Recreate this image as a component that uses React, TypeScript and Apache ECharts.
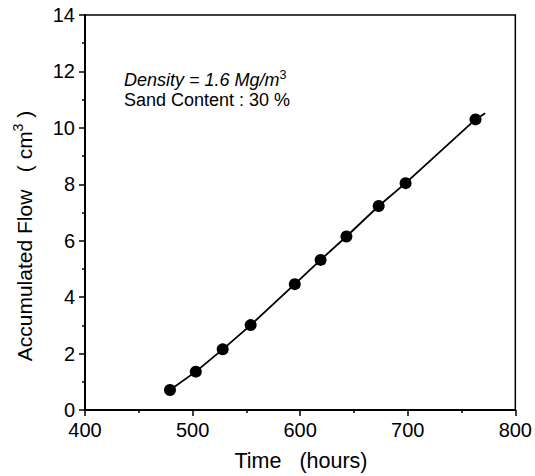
import React, { useEffect, useRef } from "react";
import * as echarts from "echarts";

const timeHours = [479, 503, 528, 554, 595, 619, 643, 673, 698, 763];
const flowCm3 = [0.71, 1.36, 2.15, 3.01, 4.46, 5.32, 6.15, 7.23, 8.04, 10.3];
const fitTime = [479, 503, 528, 554, 595, 619, 643, 673, 698, 763, 772];
const fitFlow = [0.71, 1.36, 2.15, 3.01, 4.46, 5.32, 6.15, 7.23, 8.04, 10.3, 10.52];
const xTicks = [400, 800, 100];
const yTicks = [0, 14, 2];

const FONT = "'Liberation Sans', Arial, sans-serif";

export default function App() {
  const ref = useRef<HTMLDivElement>(null);
  useEffect(() => {
    if (!ref.current) return;
    const chart = echarts.init(ref.current, null, { renderer: "svg" });
    const pts = timeHours.map((t, i) => [t, flowCm3[i]]);
    const fit = fitTime.map((t, i) => [t, fitFlow[i]]);
    chart.setOption({
      animation: false,
      backgroundColor: "#fff",
      textStyle: { fontFamily: FONT },
      grid: {
        left: 85,
        right: 19,
        top: 15,
        bottom: 66,
        show: true,
        borderColor: "#000",
        borderWidth: 1.5,
      },
      xAxis: {
        type: "value",
        min: xTicks[0],
        max: xTicks[1],
        interval: xTicks[2],
        axisLine: { show: true, onZero: false, lineStyle: { color: "#000", width: 2 } },
        axisTick: { show: true, length: 6, lineStyle: { color: "#000", width: 1.5 } },
        minorTick: { show: true, splitNumber: 2, length: 3, lineStyle: { color: "#000", width: 1.5 } },
        splitLine: { show: false },
        axisLabel: { color: "#000", fontSize: 20, fontFamily: FONT, margin: 12, lineHeight: 16 },
      },
      yAxis: {
        type: "value",
        min: yTicks[0],
        max: yTicks[1],
        interval: yTicks[2],
        axisLine: { show: true, onZero: false, lineStyle: { color: "#000", width: 2 } },
        axisTick: { show: true, length: 6, lineStyle: { color: "#000", width: 1.5 } },
        minorTick: { show: true, splitNumber: 2, length: 3, lineStyle: { color: "#000", width: 1.5 } },
        splitLine: { show: false },
        axisLabel: { color: "#000", fontSize: 20, fontFamily: FONT, margin: 10, lineHeight: 15 },
      },
      series: [
        {
          type: "line",
          data: fit,
          symbol: "none",
          lineStyle: { color: "#000", width: 1.8 },
          silent: true,
        },
        {
          type: "scatter",
          data: pts,
          symbol: "circle",
          symbolSize: 12,
          itemStyle: { color: "#000", opacity: 1 },
        },
      ],
      graphic: [
        {
          type: "text",
          left: 124,
          top: 68,
          style: {
            text: "{i|Density = 1.6 Mg/m}{s|3}",
            rich: {
              i: { fontSize: 18, fontStyle: "italic", fontFamily: FONT, fill: "#000", lineHeight: 21, verticalAlign: "bottom" },
              s: { fontSize: 12.5, fontFamily: FONT, fill: "#000", lineHeight: 21, verticalAlign: "top" },
            },
          },
        },
        {
          type: "text",
          left: 124,
          top: 91,
          style: { text: "Sand Content : 30 %", fontSize: 18, fontFamily: FONT, fill: "#000" },
        },
        {
          type: "text",
          x: 301,
          y: 461,
          style: {
            text: "Time   (hours)",
            fontSize: 21.5,
            fontFamily: FONT,
            fill: "#000",
            align: "center",
            verticalAlign: "middle",
          },
        },
        {
          type: "text",
          x: 23,
          y: 236,
          rotation: Math.PI / 2,
          style: {
            text: "{n|Accumulated Flow   ( cm}{s|3}{n| )}",
            align: "center",
            verticalAlign: "middle",
            rich: {
              n: { fontSize: 21, fontFamily: FONT, fill: "#000", lineHeight: 24, verticalAlign: "bottom" },
              s: { fontSize: 14, fontFamily: FONT, fill: "#000", lineHeight: 24, verticalAlign: "top" },
            },
          },
        },
      ],
    });
    return () => chart.dispose();
  }, []);
  return (
    <div
      ref={ref}
      style={{ position: "fixed", left: 0, top: 0, width: 535, height: 476 }}
    />
  );
}
